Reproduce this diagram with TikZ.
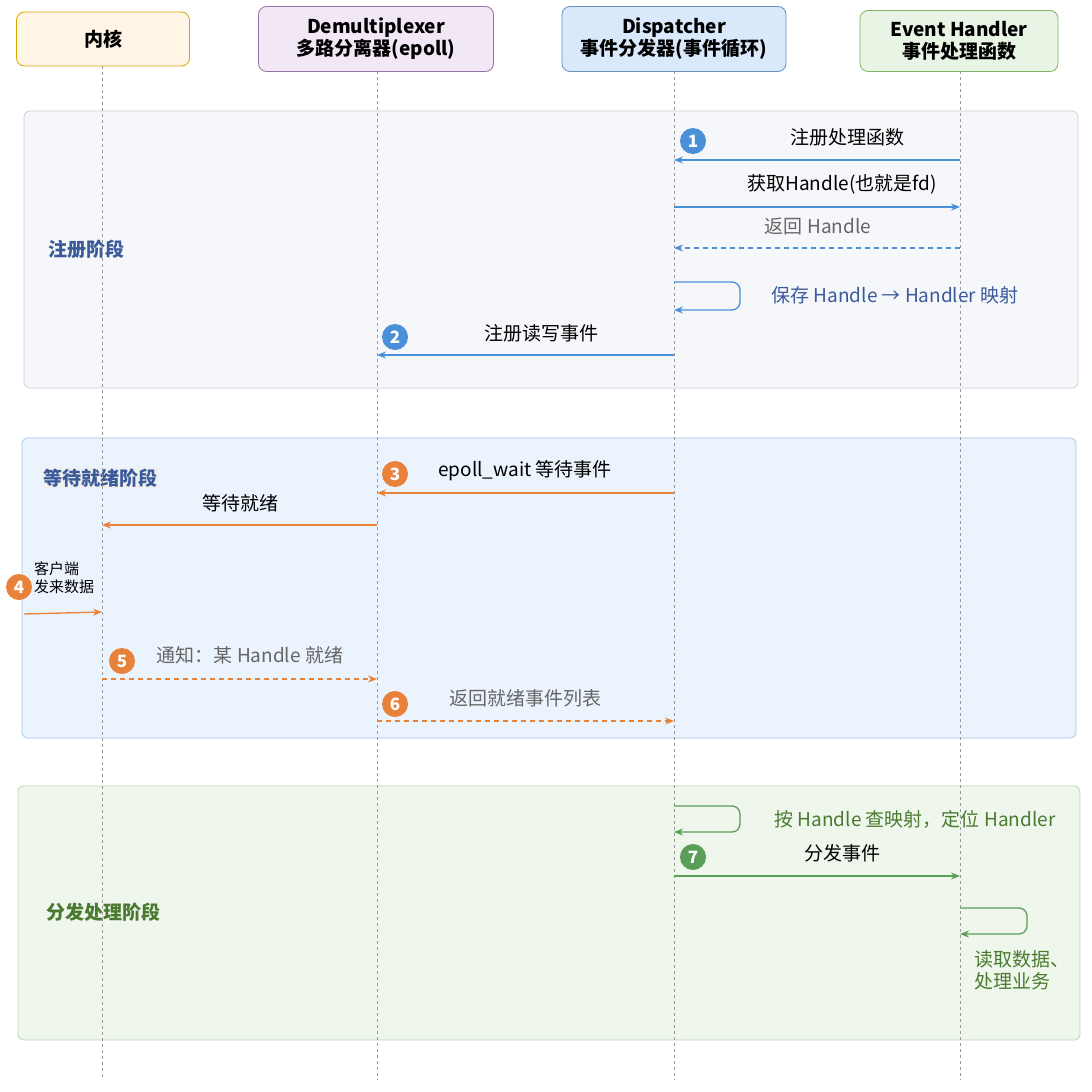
\documentclass[tikz,border=0pt]{standalone}
\usepackage{fontspec}
\setmainfont{Noto Sans CJK SC}
\usetikzlibrary{arrows.meta}
\definecolor{cb}{HTML}{4A90D9}\definecolor{co}{HTML}{E8823A}\definecolor{cg}{HTML}{5A9E5A}
\definecolor{tb}{HTML}{3B5A9A}\definecolor{tg}{HTML}{4A7A30}\definecolor{tgray}{HTML}{666666}
\definecolor{f1}{HTML}{F5F7FA}\definecolor{d1}{HTML}{C8D3E0}
\definecolor{f2}{HTML}{EBF3FC}\definecolor{d2}{HTML}{A9C4EB}
\definecolor{f3}{HTML}{EFF6EC}\definecolor{d3}{HTML}{B9DAB0}
\definecolor{hk}{HTML}{FFF5E6}\definecolor{hkd}{HTML}{D6A800}
\definecolor{hd}{HTML}{F2E7F5}\definecolor{hdd}{HTML}{9673A6}
\definecolor{hs}{HTML}{DAE8FC}\definecolor{hsd}{HTML}{6C8EBF}
\definecolor{hh}{HTML}{E8F5E4}\definecolor{hhd}{HTML}{82B366}
\begin{document}
\begin{tikzpicture}[x=1pt,y=-1pt,
 hdr/.style={draw,rounded corners=8pt,font=\bfseries\fontsize{19}{22}\selectfont,align=center,line width=0.8pt},
 phase/.style={rounded corners=6pt,line width=0.8pt},
 life/.style={draw=gray!80,dash pattern=on 3pt off 3pt,line width=0.8pt},
 msg/.style={-{Stealth[length=9pt,width=7pt]},line width=1.3pt},
 ret/.style={msg,dash pattern=on 5pt off 4pt},
 lbl/.style={font=\fontsize{19}{22}\selectfont},
 ilbl/.style={font=\itshape\fontsize{19}{22}\selectfont,text=tgray},
 badge/.style={circle,inner sep=0pt,minimum size=26pt,text=white,font=\bfseries\fontsize{17}{17}\selectfont},
 plbl/.style={font=\bfseries\fontsize{19}{22}\selectfont}]
\useasboundingbox (0,0) rectangle (1092,1092);
\fill[white] (0,0) rectangle (1092,1092);
% phases
\draw[phase,fill=f1,draw=d1] (24,111) rectangle (1078,388);
\draw[phase,fill=f2,draw=d2] (22,438) rectangle (1076,738);
\draw[phase,fill=f3,draw=d3] (18,786) rectangle (1080,1040);
\node[plbl,text=tb] (p1) at (86,249) {注册阶段};
\node[plbl,text=tb,fill=gray!12,inner sep=1pt] (p2) at (100,478) {等待就绪阶段};
\node[plbl,text=tg] (p3) at (103,912) {分发处理阶段};
% headers
\node[hdr,fill=hk,draw=hkd,minimum width=173pt,minimum height=54pt] (k) at (103,39) {内核};
\node[hdr,fill=hd,draw=hdd,minimum width=235pt,minimum height=65pt] (d) at (376,39) {Demultiplexer\\多路分离器(epoll)};
\node[hdr,fill=hs,draw=hsd,minimum width=224pt,minimum height=65pt] (s) at (674,39) {Dispatcher\\事件分发器(事件循环)};
\node[hdr,fill=hh,draw=hhd,minimum width=198pt,minimum height=61pt] (h) at (959,41) {Event Handler\\事件处理函数};
\coordinate (kb) at (102,1080);\coordinate (db) at (377,1080);\coordinate (sb) at (674,1080);\coordinate (hb) at (960,1080);
\draw[life] (102,66)--(kb);\draw[life] (377,71)--(db);\draw[life] (674,71)--(sb);\draw[life] (960,71)--(hb);
% coordinates
\foreach \n/\x in {K/102,D/377,S/674,H/960}{\foreach \y in {160,207,248,282,310,355,493,525,612,679,721,806,832,876,908,934}{\coordinate (\n\y) at (\x,\y);}}
% register
\draw[msg,cb] (H160)--(S160); \node[lbl] (l1) at (847,137) {注册处理函数}; \node[badge,fill=cb] (b1) at (693,141) {1};
\draw[msg,cb] (S207)--(H207); \node[lbl] (l2) at (842,184) {获取Handle(也就是fd)};
\draw[ret,cb] (H248)--(S248); \node[ilbl] (l3) at (818,226) {返回 Handle};
\draw[msg,cb,rounded corners=8pt] (S282)--(740,282)--(740,310)--(S310); \node[lbl,text=tb] (l4) at (895,295) {保存 Handle → Handler 映射};
\draw[msg,cb] (S355)--(D355); \node[lbl] (l5) at (541,333) {注册读写事件}; \node[badge,fill=cb] (b2) at (395,337) {2};
% wait
\draw[msg,co] (S493)--(D493); \node[lbl] (l6) at (525,471) {epoll\_wait 等待事件}; \node[badge,fill=co] (b3) at (395,474) {3};
\draw[msg,co] (D525)--(K525); \node[lbl] (l7) at (240,503) {等待就绪};
\coordinate (c0) at (24,614);
\draw[msg,co] (c0)--(K612); \node[font=\fontsize{15}{18}\selectfont,align=left] (l8) at (64,578) {客户端\\发来数据}; \node[badge,fill=co] (b4) at (19,587) {4};
\draw[ret,co] (K679)--(D679); \node[ilbl] (l9) at (250,655) {通知：某 Handle 就绪}; \node[badge,fill=co] (b5) at (122,661) {5};
\draw[ret,co] (D721)--(S721); \node[ilbl] (l10) at (525,698) {返回就绪事件列表}; \node[badge,fill=co] (b6) at (395,704) {6};
% dispatch
\draw[msg,cg,rounded corners=8pt] (S806)--(740,806)--(740,832)--(S832); \node[lbl,text=tg] (l11) at (915,819) {按 Handle 查映射，定位 Handler};
\draw[msg,cg] (S876)--(H876); \node[lbl] (l12) at (842,853) {分发事件}; \node[badge,fill=cg] (b7) at (693,857) {7};
\draw[msg,cg,rounded corners=8pt] (H908)--(1027,908)--(1027,934)--(H934); \node[lbl,text=tg,align=left] (l13) at (1022,970) {读取数据、\\处理业务};
\end{tikzpicture}
\end{document}
